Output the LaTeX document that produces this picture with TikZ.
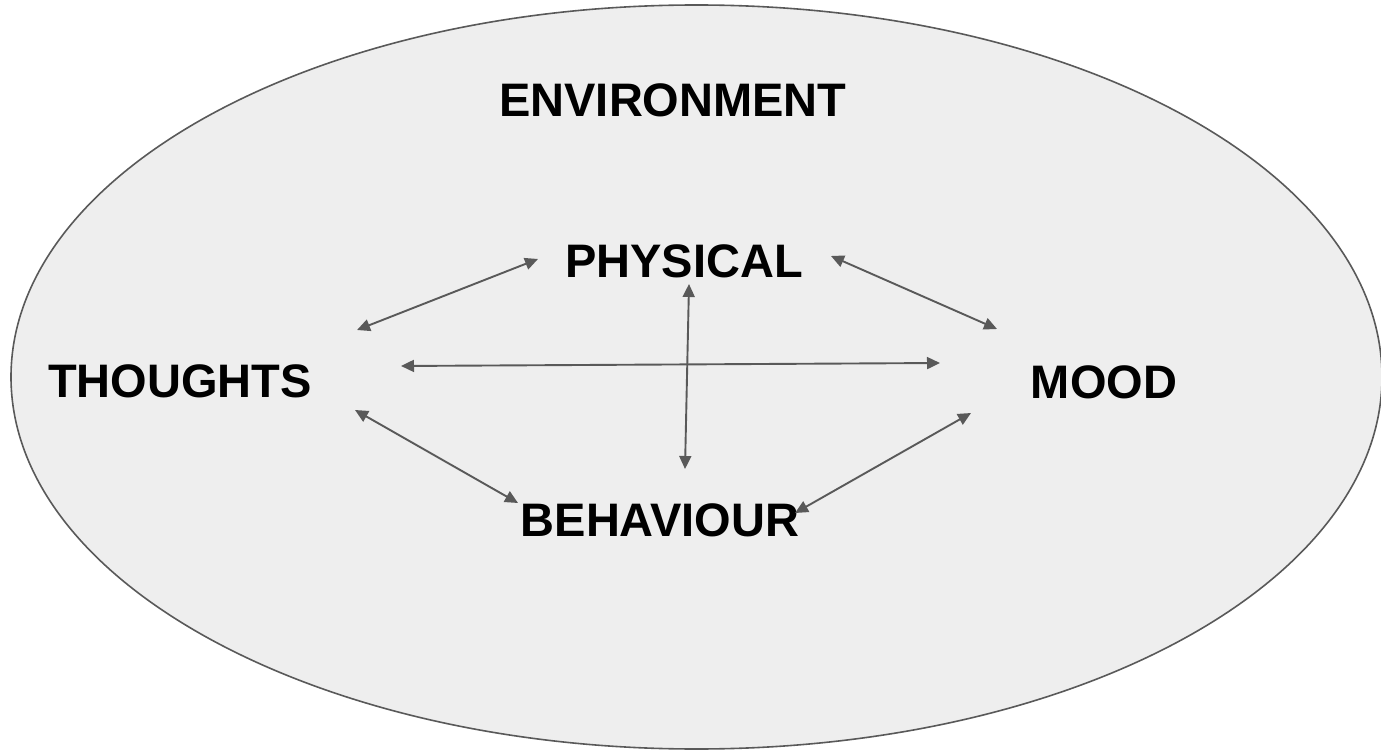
\documentclass[tikz,border=0pt]{standalone}
\usepackage{fontspec}
\setmainfont{Liberation Sans}
\usetikzlibrary{arrows.meta}

\definecolor{envfill}{HTML}{EEEEEE}
\definecolor{linegray}{HTML}{595959}

\tikzset{
	word/.style={anchor=base, inner sep=0pt, font=\fontsize{47}{56}\selectfont\bfseries, text=black},
	link/.style={{Triangle[length=13pt,width=12pt]}-{Triangle[length=13pt,width=12pt]}, draw=linegray, line width=1.9pt}
}

\begin{document}
\begin{tikzpicture}[x=1pt,y=1pt]
	\useasboundingbox (0,0) rectangle (1381,-751);
	\draw[fill=envfill, draw=linegray, line width=1.6pt] (696.5,-377) ellipse [x radius=685.5, y radius=372];

	\node[word] (env) at (673, -117)      {ENVIRONMENT};
	\node[word] (phys) at (684, -278)     {PHYSICAL};
	\node[word] (thou) at (180, -397)     {THOUGHTS};
	\node[word] (mood) at (1104, -398)    {MOOD};
	\node[word] (behav) at (660, -536)    {BEHAVIOUR};

	% arrow ends next to the words
	\coordinate (thou-up) at (357, -330);
	\coordinate (thou-mid) at (401, -366);
	\coordinate (thou-down) at (355, -410);
	\coordinate (phys-left) at (538, -259);
	\coordinate (phys-right) at (831, -256);
	\coordinate (phys-down) at (689, -284);
	\coordinate (mood-up) at (997, -329);
	\coordinate (mood-mid) at (940, -363);
	\coordinate (mood-down) at (971, -413);
	\coordinate (behav-left) at (518, -503);
	\coordinate (behav-up) at (685, -469);
	\coordinate (behav-right) at (795, -513);

	\draw[link] (thou-up) -- (phys-left);
	\draw[link] (phys-right) -- (mood-up);
	\draw[link] (thou-mid) -- (mood-mid);
	\draw[link] (phys-down) -- (behav-up);
	\draw[link] (thou-down) -- (behav-left);
	\draw[link] (mood-down) -- (behav-right);
\end{tikzpicture}
\end{document}
